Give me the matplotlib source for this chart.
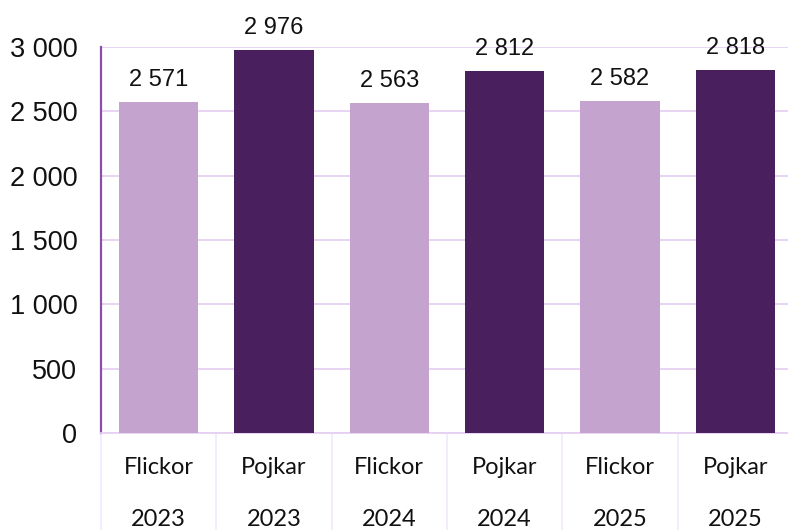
import matplotlib
matplotlib.use("Agg")
import matplotlib.pyplot as plt
import matplotlib.transforms as mtransforms
from matplotlib.ticker import FuncFormatter

# data
groups = ["Flickor", "Pojkar", "Flickor", "Pojkar", "Flickor", "Pojkar"]
years = ["2023", "2023", "2024", "2024", "2025", "2025"]
values = [2571, 2976, 2563, 2812, 2582, 2818]

light = "#C4A4CE"
dark = "#4A1F5E"
colors = [light if g == "Flickor" else dark for g in groups]


def space_thousands(v, pos=None):
    return f"{int(round(v)):,}".replace(",", " ")


fig = plt.figure(figsize=(7.88, 5.30), dpi=100)
ax = fig.add_axes([101 / 788, 97 / 530, 692 / 788, 386 / 530])

x = list(range(len(values)))
ax.bar(x, values, width=0.69, color=colors, zorder=3)

ax.set_xlim(-0.5, len(values) - 0.5)
ax.set_ylim(0, 3000)
ax.set_yticks(range(0, 3001, 500))
ax.yaxis.set_major_formatter(FuncFormatter(space_thousands))
ax.tick_params(axis="y", length=0, pad=17, labelsize=19.5)
for lab in ax.get_yticklabels():
    lab.set_fontfamily("Liberation Sans")
    lab.set_color("#111111")
ax.set_xticks([])

ax.grid(axis="y", color="#E6D0F2", linewidth=1.3, zorder=0)
for side in ["top", "right"]:
    ax.spines[side].set_visible(False)
ax.spines["left"].set_color("#8B4FA8")
ax.spines["left"].set_linewidth(1.6)
ax.spines["bottom"].set_color("#E6D0F2")
ax.spines["bottom"].set_linewidth(1.3)

# value labels
for xi, v in zip(x, values):
    ax.annotate(space_thousands(v), (xi, v), xytext=(0, 11.5),
                textcoords="offset points", ha="center", va="baseline",
                fontsize=17, family="Liberation Sans", color="#111111")

# multi-level category axis
trans = mtransforms.blended_transform_factory(ax.transData, ax.transAxes)
for b in range(len(values) + 1):
    ax.plot([b - 0.5, b - 0.5], [0, -0.26], transform=trans, color="#F3EAFC",
            linewidth=1.3, clip_on=False)
for xi, g, yr in zip(x, groups, years):
    ax.text(xi, -35 / 386, g, transform=trans, ha="center", va="center",
            fontsize=17, family="Lato", color="#111111")
    ax.text(xi, -86 / 386, yr, transform=trans, ha="center", va="center",
            fontsize=17, family="Lato", color="#111111")

fig.savefig("out.png", dpi=100)
